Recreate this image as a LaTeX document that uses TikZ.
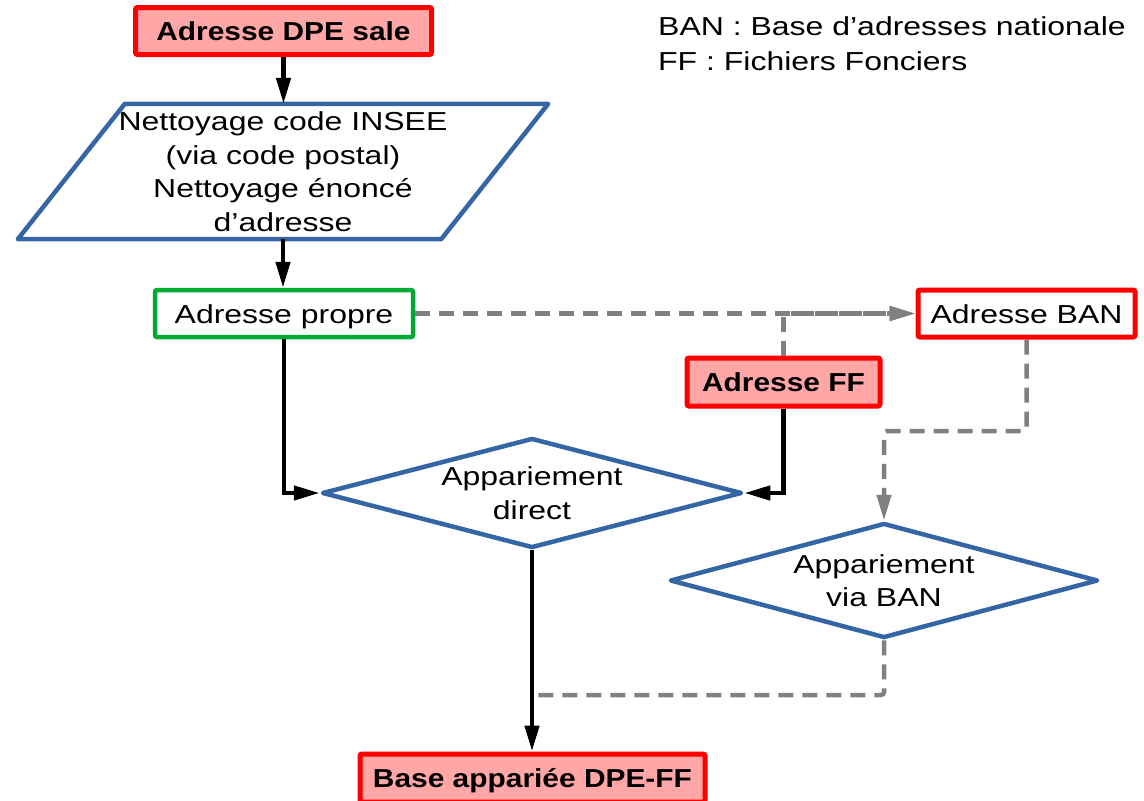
\documentclass[tikz,border=0pt]{standalone}
\usepackage{fontspec}
\setmainfont{Liberation Sans}[UprightFeatures={FakeStretch=1.23}, BoldFeatures={FakeStretch=1.15}]
\usetikzlibrary{arrows.meta,shapes.geometric,calc}
\definecolor{lored}{HTML}{FFA6A6}
\definecolor{myblue}{HTML}{3465A4}
\definecolor{mygreen}{HTML}{00A933}
\definecolor{mygray}{HTML}{808080}
\begin{document}
\begin{tikzpicture}[x=1pt,y=-1pt,
  txt/.style={font=\fontsize{26}{33.5}\selectfont},
  box/.style={txt, rectangle, rounded corners=2pt, inner sep=0pt, line width=5pt, text height=19pt, text depth=0pt},
  redbox/.style={box, draw=red, fill=lored, font=\fontsize{26}{33.5}\selectfont\bfseries},
  whitered/.style={box, draw=red, fill=white},
  greenbox/.style={box, draw=mygreen, fill=white, line width=4.5pt},
  dia/.style={txt, diamond, draw=myblue, line width=4.5pt, inner sep=0pt, align=center, line join=round},
  arr/.style={line width=4.5pt, -{Triangle[length=26pt,width=14pt]}},
  dsh/.style={draw=mygray, line width=4.5pt, dash pattern=on 15pt off 9pt, rounded corners=3pt},
  darr/.style={dsh, -{Triangle[length=26pt,width=14pt,fill=mygray]}}
]
\useasboundingbox (0,0) rectangle (1144,801);

% nodes
\node[redbox, minimum width=296pt, minimum height=47pt] (dpe) at (283.5,31) {Adresse DPE sale};
\node[txt, inner sep=0pt, minimum width=423pt, minimum height=135pt, align=center] (clean) at (283,171.5)
  {Nettoyage code INSEE\\(via code postal)\\Nettoyage énoncé\\d’adresse};
\draw[myblue, line width=4.5pt, line join=round]
  ([xshift=53.5pt]clean.north west) -- ([xshift=53.5pt]clean.north east)
  -- ([xshift=-53.5pt]clean.south east) -- ([xshift=-53.5pt]clean.south west) -- cycle;
\node[greenbox, minimum width=258pt, minimum height=47pt] (propre) at (284,313.5) {Adresse propre};
\node[whitered, minimum width=217pt, minimum height=47pt] (ban) at (1026.5,313.5) {Adresse BAN};
\node[redbox, minimum width=193pt, minimum height=48pt] (ff) at (783.5,382) {Adresse FF};
\node[dia, aspect=3.8, minimum width=420pt, minimum height=110pt] (direct) at (532,493) {Appariement\\direct};
\node[dia, aspect=3.7, minimum width=428pt, minimum height=115pt] (via) at (884,580.5) {Appariement\\via BAN};
\node[redbox, minimum width=345pt, minimum height=48pt] (base) at (532.5,778) {Base appariée DPE-FF};
\node[txt, font=\fontsize{26}{35}\selectfont, anchor=north west, align=left, inner sep=0pt] (legend) at (658,16)
  {BAN : Base d’adresses nationale\\FF : Fichiers Fonciers};

\coordinate (k1) at (1026.5,431);
\coordinate (k2) at (532,695);

% black connectors
\draw[arr] (dpe.south) -- (dpe.south |- clean.north);
\draw[arr] (clean.south) -- (clean.south |- propre.north);
\draw[arr] (propre.south) |- (direct.west);
\draw[arr] (ff.south) |- (direct.east);
\draw[arr] (direct.south) -- (direct.south |- base.north);

% dashed connectors
\draw[darr] (propre.east) -- (ban.west);
\draw[darr] (ff.north) |- (ban.west);
\draw[darr] (ban.south) -- (k1) -| (via.north);
\draw[dsh] (via.south) |- (k2);
\end{tikzpicture}
\end{document}
